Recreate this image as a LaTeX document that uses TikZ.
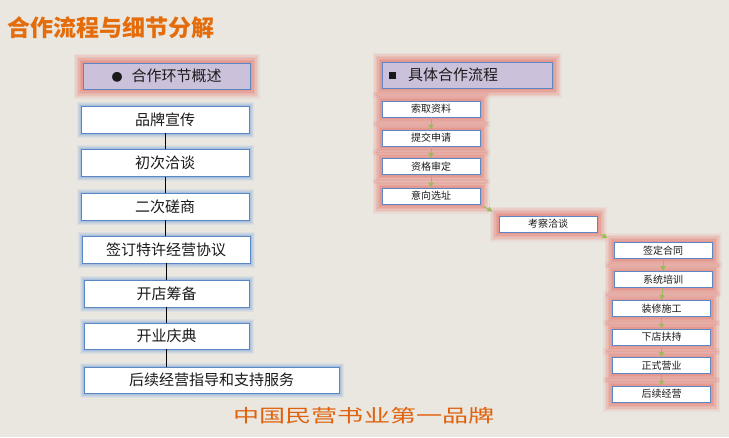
\documentclass[tikz,border=0pt]{standalone}
\usepackage{fontspec}
\usepackage{graphicx}
\setmainfont{Noto Sans CJK SC}
\usetikzlibrary{arrows.meta}
\definecolor{bg}{HTML}{EAE7E1}
\definecolor{bordblue}{HTML}{5B87C5}
\definecolor{glowblue}{HTML}{7FA8DE}
\definecolor{glowred}{HTML}{E5776F}
\definecolor{lav}{HTML}{CCC1DA}
\definecolor{orangeA}{HTML}{E46C0A}
\definecolor{orangeB}{HTML}{E0620C}
\definecolor{garrow}{HTML}{9BBB59}
\definecolor{txt}{HTML}{1A1A1A}
\begin{document}
\begin{tikzpicture}[x=1pt,y=1pt,
  box/.style={draw=bordblue, line width=0.9pt, fill=white, inner sep=0pt, text=txt},
  bglow/.style={preaction={draw=glowblue, line width=9pt, opacity=0.12, rounded corners=4pt},
                preaction={draw=glowblue, line width=7pt, opacity=0.15, rounded corners=3pt},
                preaction={draw=glowblue, line width=5pt, opacity=0.2, rounded corners=2pt},
                preaction={draw=glowblue, line width=3pt, opacity=0.3}},
  rglow/.style={preaction={draw=glowred, line width=19pt, opacity=0.1, rounded corners=8pt},
                preaction={draw=glowred, line width=16pt, opacity=0.13, rounded corners=7pt},
                preaction={draw=glowred, line width=13pt, opacity=0.16, rounded corners=5pt},
                preaction={draw=glowred, line width=10pt, opacity=0.19, rounded corners=4pt},
                preaction={draw=glowred, line width=7pt, opacity=0.22, rounded corners=3pt},
                preaction={draw=glowred, line width=4pt, opacity=0.28}},
  lbox/.style={box, bglow, minimum width=168pt, minimum height=27pt, font=\fontsize{15}{15}\selectfont},
  sbox/.style={box, rglow, minimum width=98pt, minimum height=16pt, font=\fontsize{10}{10}\selectfont},
  hbox/.style={box, rglow, fill=lav, minimum height=26pt, font=\fontsize{15}{15}\selectfont},
  conn/.style={draw=black, line width=0.8pt},
  garr/.style={draw=garrow, line width=1pt, -{Triangle[length=5pt,width=5pt]}}
]
\fill[bg] (0,0) rectangle (729,-437);
\useasboundingbox (0,0) rectangle (729,-437);

% title
\node[anchor=west, inner sep=0pt, text=orangeA, font=\bfseries\fontsize{23}{23}\selectfont] (title) at (7,-28) {合作流程与细节分解};

% left column
\node[hbox, minimum width=167pt] (lh) at (166.5,-76) {{\fontsize{11}{11}\selectfont ●}\hspace{9pt}合作环节概述};
\node[lbox] (l1) at (165,-119.5) {品牌宣传};
\node[lbox] (l2) at (165,-163) {初次洽谈};
\node[lbox] (l3) at (165,-206.5) {二次磋商};
\node[lbox] (l4) at (166,-249.5) {签订特许经营协议};
\node[lbox, minimum width=165pt] (l5) at (166.5,-293.5) {开店筹备};
\node[lbox, minimum width=165pt, minimum height=26pt] (l6) at (166.5,-336) {开业庆典};
\node[lbox, minimum width=255pt, minimum height=26pt] (l7) at (211.5,-380) {后续经营指导和支持服务};

\draw[conn] (l1.south) -- (l1.south |- l2.north);
\draw[conn] (l2.south) -- (l2.south |- l3.north);
\draw[conn] (l3.south) -- (l3.south |- l4.north);
\draw[conn] (l4.south) -- (l4.south |- l5.north);
\draw[conn] (l5.south) -- (l5.south |- l6.north);
\draw[conn] (l6.south) -- (l6.south |- l7.north);

% right column
\node[hbox, text width=156pt, align=left, inner xsep=7pt] (rh) at (467,-75) {\raisebox{2pt}{\rule{7pt}{7pt}}\hspace{12pt}具体合作流程};
\node[sbox] (r1) at (431,-109) {索取资料};
\node[sbox] (r2) at (431,-138) {提交申请};
\node[sbox] (r3) at (431,-166.5) {资格审定};
\node[sbox] (r4) at (431,-196) {意向选址};
\node[sbox] (r5) at (548,-224) {考察洽谈};
\node[sbox] (r6) at (663,-250.5) {签定合同};
\node[sbox] (r7) at (663,-279.5) {系统培训};
\node[sbox] (r8) at (661.5,-308.5) {装修施工};
\node[sbox] (r9) at (661.5,-337) {下店扶持};
\node[sbox] (r10) at (661.5,-365.5) {正式营业};
\node[sbox] (r11) at (661.5,-394) {后续经营};

\draw[garr] (r1.south) -- (r2.north);
\draw[garr] (r2.south) -- (r3.north);
\draw[garr] (r3.south) -- (r4.north);
\draw[garr] ([shift={(3,-2)}]r4.south east) -- ([shift={(-6,4)}]r5.north west);
\draw[garr] ([shift={(3,-2)}]r5.south east) -- ([shift={(-6,4)}]r6.north west);
\draw[garr] (r6.south) -- (r7.north);
\draw[garr] (r7.south) -- (r8.north);
\draw[garr] (r8.south) -- (r9.north);
\draw[garr] (r9.south) -- (r10.north);
\draw[garr] (r10.south) -- (r11.north);

% slogan
\node[inner sep=0pt, text=orangeB, font=\fontsize{18}{18}\selectfont] (slogan) at (364,-416) {\scalebox{1.45}[1]{中国民营书业第一品牌}};
\end{tikzpicture}
\end{document}
